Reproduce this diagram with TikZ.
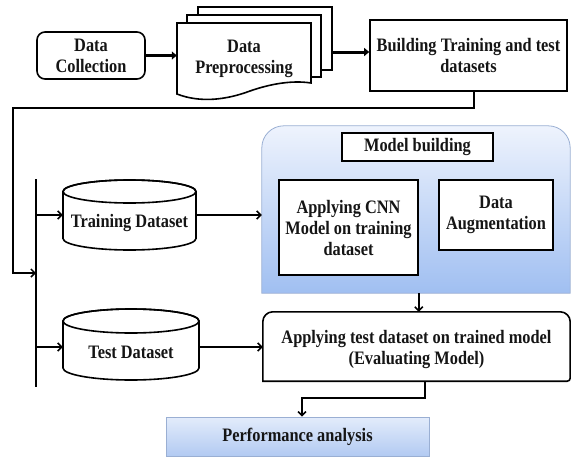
\documentclass[tikz,border=0pt]{standalone}
\usepackage{fontspec}
\setmainfont{Liberation Serif}[FakeStretch=0.86]
\usetikzlibrary{arrows.meta}

\definecolor{inkc}{HTML}{151515}
\definecolor{paneltop}{HTML}{EEF3FD}
\definecolor{panelbot}{HTML}{A0BFF1}
\definecolor{paneledge}{HTML}{9AAFD3}
\definecolor{perftop}{HTML}{E3ECFB}
\definecolor{perfbot}{HTML}{B2CAF2}

\begin{document}
\begin{tikzpicture}[x=1pt,y=-1pt,
  lbl/.style={font=\bfseries\fontsize{19}{21}\selectfont, align=center, text=inkc},
  box/.style={draw=black, line width=1.6pt, fill=white, inner sep=0pt, lbl},
  ghost/.style={inner sep=0pt, draw=none},
  link/.style={line width=1.5pt, -{Straight Barb[length=4pt,width=8pt]}},
  heavy/.style={line width=3pt, -{Triangle[length=5pt,width=8pt]}},
  sheet/.style={draw=black, line width=1.6pt, fill=white}]
\useasboundingbox (0,0) rectangle (571,458);

% ---- top row -------------------------------------------------------
\node[box, rounded corners=8pt, minimum width=108pt, minimum height=47pt]
  (collect) at (91,55.5) {Data\\Collection};

% stacked document sheets
\node[sheet, ghost, draw=black, minimum width=134pt, minimum height=63pt]
  (sheetC) at (265,38.5) {};
\node[sheet, ghost, draw=black, minimum width=134pt, minimum height=62pt]
  (sheetB) at (254,46) {};
\filldraw[sheet] (177,23) -- (311,23) -- (311,83)
  .. controls (292,80) and (270,84) .. (250,91)
  .. controls (226,100) and (200,103) .. (177,94) -- cycle;
\node[ghost, lbl, minimum width=134pt, minimum height=60pt]
  (prep) at (244,59) {Data\\Preprocessing};

\node[box, minimum width=197pt, minimum height=71pt]
  (build) at (468.5,55.5) {Building Training and test\\datasets};

\draw[heavy] (collect.east) -- (collect.east -| prep.west);
\draw[heavy] ([yshift=3.5pt]build.west -| sheetC.east) -- ([yshift=3.5pt]build.west);

% ---- distribution bus ---------------------------------------------
\coordinate (lft)   at (13,108);
\coordinate (busT)  at (36,179);
\coordinate (busB)  at (36,387);
\coordinate (busJ)  at (36,273);
\coordinate (busTr) at (36,215);
\coordinate (busTe) at (36,347);
\draw[line width=1.6pt] (busT) -- (busB);
\draw[link] ([xshift=5.5pt]build.south) |- (lft) |- (busJ);

% ---- datasets (cylinders) -----------------------------------------
\node[ghost, minimum width=133pt, minimum height=70pt] (train) at (129.5,215) {};
\filldraw[sheet] (63,191.5) -- (63,238.5)
  arc[start angle=180, end angle=360, x radius=66.5pt, y radius=11.5pt]
  -- (196,191.5)
  arc[start angle=0, end angle=180, x radius=66.5pt, y radius=11.5pt] -- cycle;
\draw[line width=1.6pt] (129.5,191.5) ellipse[x radius=66.5pt, y radius=11.5pt];
\node[lbl] (trainTxt) at (129.5,223) {Training Dataset};

\node[ghost, minimum width=136pt, minimum height=71pt] (test) at (131,344.5) {};
\filldraw[sheet] (63,321) -- (63,368)
  arc[start angle=180, end angle=360, x radius=68pt, y radius=12pt]
  -- (199,321)
  arc[start angle=0, end angle=180, x radius=68pt, y radius=12pt] -- cycle;
\draw[line width=1.6pt] (131,321) ellipse[x radius=68pt, y radius=12pt];
\node[lbl] (testTxt) at (131,352) {Test Dataset};

\draw[link] (busTr) -- (train.west);
\draw[link] (busTe) -- (busTe -| test.west);

% ---- model building panel -----------------------------------------
\node[ghost, minimum width=308pt, minimum height=167pt] (model) at (416,209.5) {};
\path[draw=paneledge, line width=0.8pt, top color=paneltop, bottom color=panelbot]
  (model.south west) [rounded corners=22pt] -- (model.north west)
  -- (model.north east) [sharp corners] -- (model.south east) -- cycle;

\node[box, minimum width=151pt, minimum height=28pt] (mlabel) at (417.5,147) {Model building};
\node[box, minimum width=139pt, minimum height=95pt] (cnn) at (348.5,227.5)
  {Applying CNN\\Model on training\\dataset};
\node[box, minimum width=114pt, minimum height=70pt] (aug) at (496,215)
  {Data\\Augmentation};

\draw[link] (train.east) -- (train.east -| model.west);

% ---- evaluation ----------------------------------------------------
\node[ghost, minimum width=307pt, minimum height=69pt] (eval) at (416.5,346.5) {};
\filldraw[sheet] (eval.south west) [rounded corners=10pt] -- (eval.north west)
  -- (eval.north east) [rounded corners=3pt] -- (eval.south east)
  [sharp corners] -- cycle;
\node[lbl] (evalTxt) at (416.5,350)
  {Applying test dataset on trained model\\(Evaluating Model)};

\draw[link] (cnn.east |- model.south) -- (cnn.east |- eval.north);
\draw[link] (busTe -| test.east) -- (busTe -| eval.west);

% ---- performance ---------------------------------------------------
\node[lbl, draw=paneledge, line width=0.8pt, top color=perftop, bottom color=perfbot,
  minimum width=263pt, minimum height=39pt, inner sep=0pt]
  (perf) at (297.5,436.5) {Performance analysis};

\draw[link] ([xshift=8.5pt]eval.south) -- ++(0,17) -| ([xshift=4.5pt]perf.north);
\end{tikzpicture}
\end{document}
